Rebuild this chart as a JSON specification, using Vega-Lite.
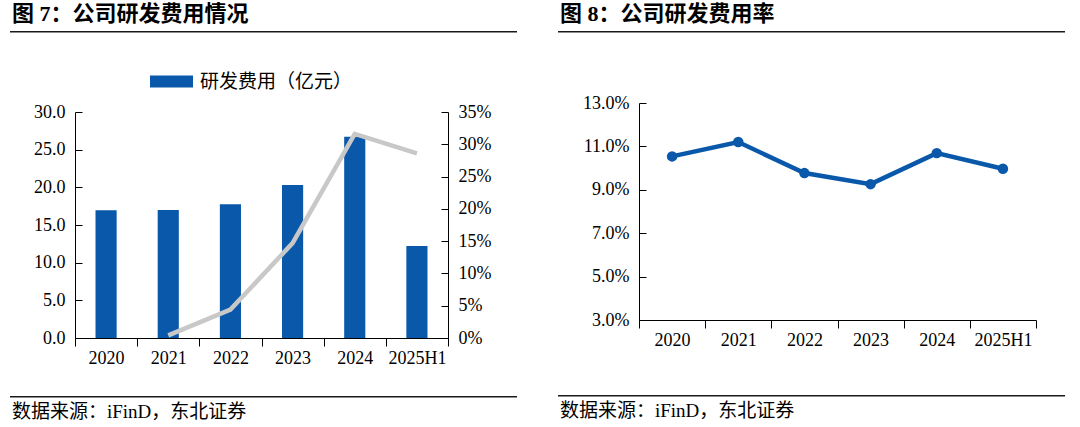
{
  "$schema": "https://vega.github.io/schema/vega-lite/v6.json",
  "background": "white",
  "padding": {"left": 10, "top": 2, "right": 0, "bottom": 0},
  "datasets": {
    "rd": [
      {"year": "2020", "rd": 16.96, "growth": null},
      {"year": "2021", "rd": 17.0, "growth": 0.004},
      {"year": "2022", "rd": 17.75, "growth": 0.044},
      {"year": "2023", "rd": 20.3, "growth": 0.147},
      {"year": "2024", "rd": 26.7, "growth": 0.316},
      {"year": "2025H1", "rd": 12.2, "growth": 0.286}
    ],
    "rate": [
      {"year": "2020", "rate": 0.1054},
      {"year": "2021", "rate": 0.112},
      {"year": "2022", "rate": 0.0977},
      {"year": "2023", "rate": 0.0926},
      {"year": "2024", "rate": 0.1069},
      {"year": "2025H1", "rate": 0.0997}
    ]
  },
  "config": {
    "view": {"stroke": null},
    "font": "Liberation Serif, Noto Sans CJK SC",
    "axis": {"grid": false, "domainColor": "#000", "domainWidth": 1, "tickColor": "#000", "tickWidth": 1, "labelColor": "#000", "labelFont": "Liberation Serif", "labelFontSize": 18},
    "title": {"font": "Liberation Serif, Noto Sans CJK SC", "color": "#000", "anchor": "start"}
  },
  "resolve": {"scale": {"color": "independent"}, "legend": {"color": "independent"}},
  "spacing": 41,
  "hconcat": [
    {
      "spacing": 23,
      "resolve": {"scale": {"color": "independent"}, "legend": {"color": "independent"}},
      "vconcat": [
        {
          "spacing": 23,
          "resolve": {"scale": {"color": "independent"}, "legend": {"color": "independent"}},
          "vconcat": [
            {
              "width": 507, "height": 1.5,
              "view": {"fill": "#1a1a1a", "stroke": null},
              "data": {"values": [{}]},
              "mark": {"type": "text"},
              "encoding": {"text": {"value": ""}},
              "title": {"text": "图 7：公司研发费用情况", "fontSize": 22, "fontWeight": "bold", "offset": 0, "dx": 2}
            },
            {
              "spacing": 0,
              "resolve": {"scale": {"color": "independent"}, "legend": {"color": "independent"}},
              "hconcat": [
                {
                  "width": 23, "height": 1,
                  "data": {"values": [{}]},
                  "mark": {"type": "text"},
                  "encoding": {"text": {"value": ""}}
                },
                {
                  "width": 373, "height": 226,
                  "data": {"name": "rd"},
                  "encoding": {
                    "x": {"field": "year", "type": "ordinal", "sort": null, "title": null,
                      "scale": {"paddingInner": 0, "paddingOuter": 0},
                      "axis": {"labelAngle": 0, "tickBand": "extent", "tickSize": 8, "labelPadding": 3}}
                  },
                  "layer": [
                    {
                      "mark": {"type": "bar", "width": {"band": 0.34}},
                      "encoding": {
                        "y": {"field": "rd", "type": "quantitative", "title": null,
                          "scale": {"domain": [0, 30]},
                          "axis": {"values": [0, 5, 10, 15, 20, 25, 30], "format": ".1f", "tickSize": -7, "labelPadding": 17}},
                        "color": {"datum": "研发费用（亿元）", "type": "nominal",
                          "scale": {"range": ["#0A58AA"]},
                          "legend": {"title": null, "orient": "none", "legendX": 75, "legendY": -52,
                            "symbolType": "M-1,-0.28H1V0.28H-1Z", "symbolSize": 1849, "symbolStrokeWidth": 0,
                            "labelFontSize": 19, "labelFont": "Liberation Serif, Noto Sans CJK SC", "labelColor": "#000",
                            "labelOffset": 7, "padding": 0}}
                      }
                    },
                    {
                      "mark": {"type": "line", "color": "#C8C8C8", "strokeWidth": 4.5},
                      "encoding": {
                        "y": {"field": "growth", "type": "quantitative", "title": null,
                          "scale": {"domain": [0, 0.35]},
                          "axis": {"orient": "right", "values": [0, 0.05, 0.1, 0.15, 0.2, 0.25, 0.3, 0.35], "format": ".0%", "tickSize": -7, "labelPadding": 17}}
                      }
                    }
                  ],
                  "resolve": {"scale": {"y": "independent"}}
                }
              ]
            }
          ]
        },
        {
          "width": 507, "height": 1.5,
          "view": {"fill": "#1a1a1a", "stroke": null},
          "data": {"values": [{}]},
          "mark": {"type": "text"},
          "encoding": {"text": {"value": ""}},
          "title": {"text": "数据来源：iFinD，东北证券", "orient": "bottom", "fontSize": 19, "fontWeight": "normal", "offset": 0, "dy": 1, "dx": 2}
        }
      ]
    },
    {
      "spacing": 40,
      "vconcat": [
        {
          "spacing": 57,
          "vconcat": [
            {
              "width": 507, "height": 1.5,
              "view": {"fill": "#1a1a1a", "stroke": null},
              "data": {"values": [{}]},
              "mark": {"type": "text"},
              "encoding": {"text": {"value": ""}},
              "title": {"text": "图 8：公司研发费用率", "fontSize": 22, "fontWeight": "bold", "offset": 0, "dx": 2}
            },
            {
              "spacing": 0,
              "hconcat": [
                {
                  "width": 24, "height": 1,
                  "data": {"values": [{}]},
                  "mark": {"type": "text"},
                  "encoding": {"text": {"value": ""}}
                },
                {
                  "width": 397, "height": 217,
                  "data": {"name": "rate"},
                  "mark": {"type": "line", "color": "#0A58AA", "strokeWidth": 4.5,
                    "point": {"filled": true, "size": 110, "color": "#0A58AA"}},
                  "encoding": {
                    "x": {"field": "year", "type": "ordinal", "sort": null, "title": null,
                      "scale": {"paddingInner": 0, "paddingOuter": 0},
                      "axis": {"labelAngle": 0, "tickBand": "extent", "tickSize": 8, "labelPadding": 3}},
                    "y": {"field": "rate", "type": "quantitative", "title": null,
                      "scale": {"domain": [0.03, 0.13], "zero": false, "nice": false},
                      "axis": {"values": [0.03, 0.05, 0.07, 0.09, 0.11, 0.13], "format": ".1%", "tickSize": -7, "labelPadding": 17}}
                  }
                }
              ]
            }
          ]
        },
        {
          "width": 507, "height": 1.5,
          "view": {"fill": "#1a1a1a", "stroke": null},
          "data": {"values": [{}]},
          "mark": {"type": "text"},
          "encoding": {"text": {"value": ""}},
          "title": {"text": "数据来源：iFinD，东北证券", "orient": "bottom", "fontSize": 19, "fontWeight": "normal", "offset": 0, "dy": 1, "dx": 2}
        }
      ]
    }
  ]
}
